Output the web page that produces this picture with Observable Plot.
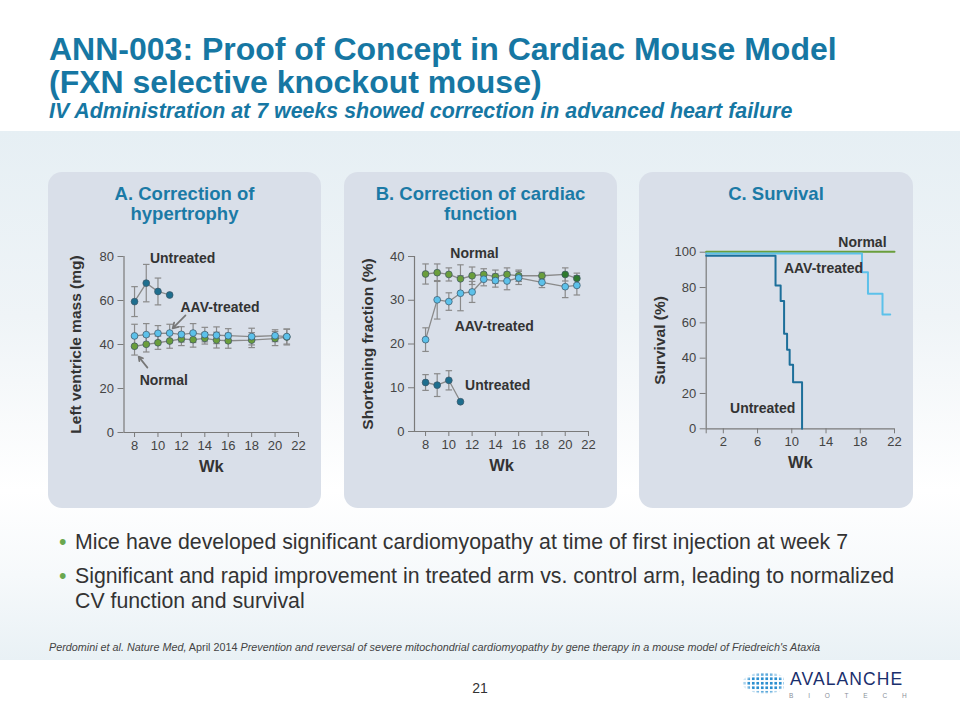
<!DOCTYPE html>
<html>
<head>
<meta charset="utf-8">
<script src="https://cdn.jsdelivr.net/npm/d3@7"></script>
<script src="https://cdn.jsdelivr.net/npm/@observablehq/plot@0.6"></script>
<style>
  body { margin: 0; background: #fff; }
  #page { position: relative; width: 960px; height: 720px; overflow: hidden; font-family: "Liberation Sans", Arial, sans-serif; background: #fff; }
  .abs { position: absolute; }
  .panel { position: absolute; top: 172px; height: 336px; background: #d9dfe9; border-radius: 14px; }
  .ptitle { position: absolute; top: 184px; text-align: center; color: #1b7aa6; font-weight: bold; font-size: 18.5px; line-height: 20px; }
  .title { left: 49px; color: #1677a3; font-weight: bold; font-size: 32px; line-height: 32px; white-space: nowrap; }
  .sub { left: 49px; top: 99px; color: #1677a3; font-weight: bold; font-style: italic; font-size: 21.4px; white-space: nowrap; }
  .bullet { left: 75px; color: #333; font-size: 21.3px; line-height: 25px; width: 835px; }
  .bullet::before { content: "•"; color: #6aa84f; position: absolute; left: -16px; }
</style>
</head>
<body>
<div id="page">
  <div class="abs" style="left:0;top:131px;width:960px;height:529px;background:linear-gradient(to bottom,#e6eff4 0%,#eff4f7 35%,#ffffff 68%,#f6f9fb 84%,#e9f1f5 100%);"></div>

  <div class="abs title" style="top:33px;">ANN-003: Proof of Concept in Cardiac Mouse Model</div>
  <div class="abs title" style="top:66px;">(FXN selective knockout mouse)</div>
  <div class="abs sub">IV Administration at 7 weeks showed correction in advanced heart failure</div>

  <div class="panel" style="left:48px;width:273px;"></div>
  <div class="panel" style="left:344px;width:273px;"></div>
  <div class="panel" style="left:639px;width:274px;"></div>

  <div class="ptitle" style="left:48px;width:273px;">A. Correction of<br>hypertrophy</div>
  <div class="ptitle" style="left:344px;width:273px;">B. Correction of cardiac<br>function</div>
  <div class="ptitle" style="left:639px;width:274px;">C. Survival</div>

  <div id="plotA" class="abs" style="left:48px;top:230px;"></div>
  <div id="plotB" class="abs" style="left:344px;top:230px;"></div>
  <div id="plotC" class="abs" style="left:639px;top:225px;"></div>

  <div class="abs bullet" style="top:530px;">Mice have developed significant cardiomyopathy at time of first injection at week 7</div>
  <div class="abs bullet" style="top:564px;">Significant and rapid improvement in treated arm vs. control arm, leading to normalized CV function and survival</div>

  <div class="abs" style="left:49px;top:641px;font-size:10.8px;color:#444;white-space:nowrap;"><i>Perdomini et al. Nature Med,</i> April 2014 <i>Prevention and reversal of severe mitochondrial cardiomyopathy by gene therapy in a mouse model of Friedreich's Ataxia</i></div>

  <div class="abs" style="left:470px;top:680px;width:20px;text-align:center;font-size:14px;color:#333;">21</div>

  <div class="abs" style="left:742px;top:672px;width:42px;height:22px;background:radial-gradient(circle,#2b8fd0 1.3px,transparent 1.8px) 0 0/4.5px 4.5px;-webkit-mask:radial-gradient(ellipse at 55% 50%,#000 50%,transparent 72%);mask:radial-gradient(ellipse at 55% 50%,#000 50%,transparent 72%);"></div>
  <div class="abs" style="left:790px;top:671px;font-size:17.5px;line-height:16px;color:#1a2f6d;letter-spacing:1.1px;">AVALANCHE</div>
  <div class="abs" style="left:789px;top:693px;font-size:6.5px;line-height:6px;color:#8a8f99;letter-spacing:14.8px;">BIOTECH</div>
</div>

<script>
// ---------- Panel A: Left ventricle mass (mg) ----------
const weeksA = [8, 9, 10, 11, 12, 13, 14, 15, 16, 18, 20, 21];
const lvmNormal = [39.2, 40.1, 40.8, 41.6, 42.5, 42.2, 42.8, 42.0, 41.7, 42.0, 42.7, 43.4];
const lvmNormalErr = [4.0, 3.5, 3.0, 3.3, 3.0, 3.4, 2.6, 3.6, 3.4, 3.4, 3.2, 3.6];
const lvmAAV = [43.9, 44.5, 45.1, 45.2, 44.6, 45.2, 44.5, 44.2, 44.0, 43.6, 44.0, 43.6];
const lvmAAVErr = [5.3, 5.0, 3.5, 4.0, 3.5, 4.3, 3.3, 3.8, 3.2, 3.8, 2.7, 3.4];
const weeksUntreated = [8, 9, 10, 11];
const lvmUntreated = [59.5, 67.9, 64.1, 62.5];
const lvmUntreatedErr = [6.8, 8.5, 6.1, 0];
const labelsA = [
  {text: "Untreated", x: 12.1, y: 79.1},
  {text: "AAV-treated", x: 15.3, y: 56.8},
  {text: "Normal", x: 10.5, y: 23.6}
];
const arrowsA = [
  {x1: 12.35, y1: 53.2, x2: 11.25, y2: 47.3},
  {x1: 9.1, y1: 29.5, x2: 8.35, y2: 34.5}
];

// ---------- Panel B: Shortening fraction (%) ----------
const weeksB = [8, 9, 10, 11, 12, 13, 14, 15, 16, 18, 20, 21];
const sfNormal = [36.0, 36.3, 35.9, 34.9, 35.6, 35.9, 35.4, 35.9, 35.6, 35.6, 35.9, 35.0];
const sfNormalErr = [2.3, 2.0, 1.5, 3.2, 2.0, 1.3, 1.5, 1.5, 1.3, 0.8, 1.5, 1.2];
const sfNormalLateWeeks = [20, 21];
const sfAAV = [21.0, 30.1, 29.7, 31.6, 31.9, 34.8, 34.5, 34.4, 35.1, 34.1, 33.1, 33.4];
const sfAAVErr = [2.7, 4.4, 2.0, 4.0, 2.4, 1.5, 1.5, 2.0, 1.5, 1.2, 2.5, 2.2];
const sfUntreated = [11.2, 10.6, 11.7, 6.8];
const sfUntreatedErr = [1.8, 2.6, 2.2, 0];
const labelsB = [
  {text: "Normal", x: 12.2, y: 40.7},
  {text: "AAV-treated", x: 13.9, y: 24.0},
  {text: "Untreated", x: 14.2, y: 10.5}
];

// ---------- Panel C: Survival (%) ----------
const survNormalWk = [0, 22];
const survNormal = [100.3, 100.3];
const survAAVWk = [0, 18.2, 18.9, 20.6, 21.5];
const survAAV = [99.2, 88.7, 76.5, 64.7, 64.7];
const survUntrWk = [0, 8.1, 8.7, 9.1, 9.45, 9.75, 10.15, 11.2];
const survUntr = [98.0, 81.1, 72.3, 53.8, 44.7, 36.2, 26.4, 0];
const labelsC = [
  {text: "Normal", x: 18.25, y: 105.5},
  {text: "AAV-treated", x: 13.7, y: 90.8},
  {text: "Untreated", x: 6.6, y: 11.5}
];

const C_NORMAL = "#6a9e3c", C_NORMAL_DARK = "#2e7a2e", C_AAV = "#5cc1ea", C_UNTR = "#1e6e8e";
const GRID = "#7a7a7a", LINE = "#8a8a8a";

function series(wks, vals, errs) {
  return wks.map((w, i) => ({wk: w, v: vals[i], e: errs ? errs[i] : 0}));
}

function errMarks(data, capW) {
  const d = data.filter(r => r.e > 0);
  return [
    Plot.link(d, {x1: r => r.wk, x2: r => r.wk, y1: r => r.v - r.e, y2: r => r.v + r.e, stroke: LINE, strokeWidth: 1.2}),
    Plot.link(d, {x1: r => r.wk - capW, x2: r => r.wk + capW, y1: r => r.v + r.e, y2: r => r.v + r.e, stroke: LINE, strokeWidth: 1.2}),
    Plot.link(d, {x1: r => r.wk - capW, x2: r => r.wk + capW, y1: r => r.v - r.e, y2: r => r.v - r.e, stroke: LINE, strokeWidth: 1.2})
  ];
}

function lineDots(data, fill) {
  return [
    Plot.line(data, {x: "wk", y: "v", stroke: LINE, strokeWidth: 1.3}),
    Plot.dot(data, {x: "wk", y: "v", r: 3.4, fill: typeof fill === "function" ? (r => fill(r)) : fill, stroke: "#3c5566", strokeWidth: 0.7})
  ];
}

function frameMarks(xDomain, yLabel, yLabelOffset, xTicks, yTicks, xFmt) {
  return [
    Plot.ruleX([xDomain[0]], {stroke: GRID, strokeWidth: 1.2}),
    Plot.ruleY([0], {stroke: GRID, strokeWidth: 1.2}),
    Plot.axisY({ticks: yTicks, tickSize: 6, tickPadding: 4, label: null, stroke: GRID, color: "#444", fill: "#444", fontSize: 13}),
    Plot.axisX({ticks: xTicks, tickSize: 5, tickPadding: 3, label: null, stroke: GRID, color: "#444", fill: "#444", fontSize: 13, tickFormat: xFmt}),
    Plot.text([yLabel], {frameAnchor: "left", textAnchor: "middle", rotate: -90, dx: -yLabelOffset, fontWeight: "bold", fontSize: 15.5, fill: "#333"}),
    Plot.text(["Wk"], {frameAnchor: "bottom", textAnchor: "middle", dy: 39, fontWeight: "bold", fontSize: 16.5, fill: "#333"})
  ];
}

const baseStyle = {background: "transparent", fontFamily: "'Liberation Sans', Arial, sans-serif", overflow: "visible"};

// Panel A
const xDomA = [7.1, 22];
const nA = series(weeksA, lvmNormal, lvmNormalErr);
const aA = series(weeksA, lvmAAV, lvmAAVErr);
const uA = series(weeksUntreated, lvmUntreated, lvmUntreatedErr);
const plotA = Plot.plot({
  width: 273, height: 260,
  marginLeft: 75.5, marginRight: 23, marginTop: 26, marginBottom: 58,
  x: {domain: xDomA}, y: {domain: [0, 80]},
  style: baseStyle,
  marks: [
    ...frameMarks(xDomA, "Left ventricle mass (mg)", 48, [8, 10, 12, 14, 16, 18, 20, 22], [0, 20, 40, 60, 80]),
    ...errMarks(nA, 0.28), ...errMarks(aA, 0.28), ...errMarks(uA, 0.28),
    ...lineDots(nA, C_NORMAL), ...lineDots(aA, C_AAV), ...lineDots(uA, C_UNTR),
    Plot.arrow(arrowsA, {x1: "x1", y1: "y1", x2: "x2", y2: "y2", stroke: "#777", strokeWidth: 1.7, headLength: 7}),
    Plot.text(labelsA, {x: "x", y: "y", text: "text", fontWeight: "bold", fontSize: 14, fill: "#333"})
  ]
});
document.getElementById("plotA").append(plotA);

// Panel B
const xDomB = [7.05, 22];
const nB = series(weeksB, sfNormal, sfNormalErr);
const aB = series(weeksB, sfAAV, sfAAVErr);
const uB = series(weeksUntreated, sfUntreated, sfUntreatedErr);
const plotB = Plot.plot({
  width: 273, height: 260,
  marginLeft: 70, marginRight: 29, marginTop: 26, marginBottom: 59,
  x: {domain: xDomB}, y: {domain: [0, 40]},
  style: baseStyle,
  marks: [
    ...frameMarks(xDomB, "Shortening fraction (%)", 46, [8, 10, 12, 14, 16, 18, 20, 22], [0, 10, 20, 30, 40]),
    ...errMarks(nB, 0.28), ...errMarks(aB, 0.28), ...errMarks(uB, 0.28),
    ...lineDots(nB, r => sfNormalLateWeeks.includes(r.wk) ? C_NORMAL_DARK : C_NORMAL),
    ...lineDots(aB, C_AAV), ...lineDots(uB, C_UNTR),
    Plot.text(labelsB, {x: "x", y: "y", text: "text", fontWeight: "bold", fontSize: 14, fill: "#333"})
  ]
});
document.getElementById("plotB").append(plotB);

// Panel C
const xDomC = [0, 22];
const sN = series(survNormalWk, survNormal);
const sA = series(survAAVWk, survAAV);
const sU = series(survUntrWk, survUntr);
const plotC = Plot.plot({
  width: 274, height: 265,
  marginLeft: 66.7, marginRight: 19, marginTop: 26.7, marginBottom: 61.7,
  x: {domain: xDomC}, y: {domain: [0, 100]},
  style: baseStyle,
  marks: [
    ...frameMarks(xDomC, "Survival (%)", 46, [0, 2, 6, 10, 14, 18, 22], [0, 20, 40, 60, 80, 100], d => d === 0 ? "" : d),
    Plot.line(sN, {x: "wk", y: "v", curve: "step-after", stroke: C_NORMAL, strokeWidth: 2}),
    Plot.line(sA, {x: "wk", y: "v", curve: "step-after", stroke: C_AAV, strokeWidth: 2}),
    Plot.line(sU, {x: "wk", y: "v", curve: "step-after", stroke: "#1d6f9a", strokeWidth: 2}),
    Plot.text(labelsC, {x: "x", y: "y", text: "text", fontWeight: "bold", fontSize: 14, fill: "#333"})
  ]
});
document.getElementById("plotC").append(plotC);
</script>
</body>
</html>
